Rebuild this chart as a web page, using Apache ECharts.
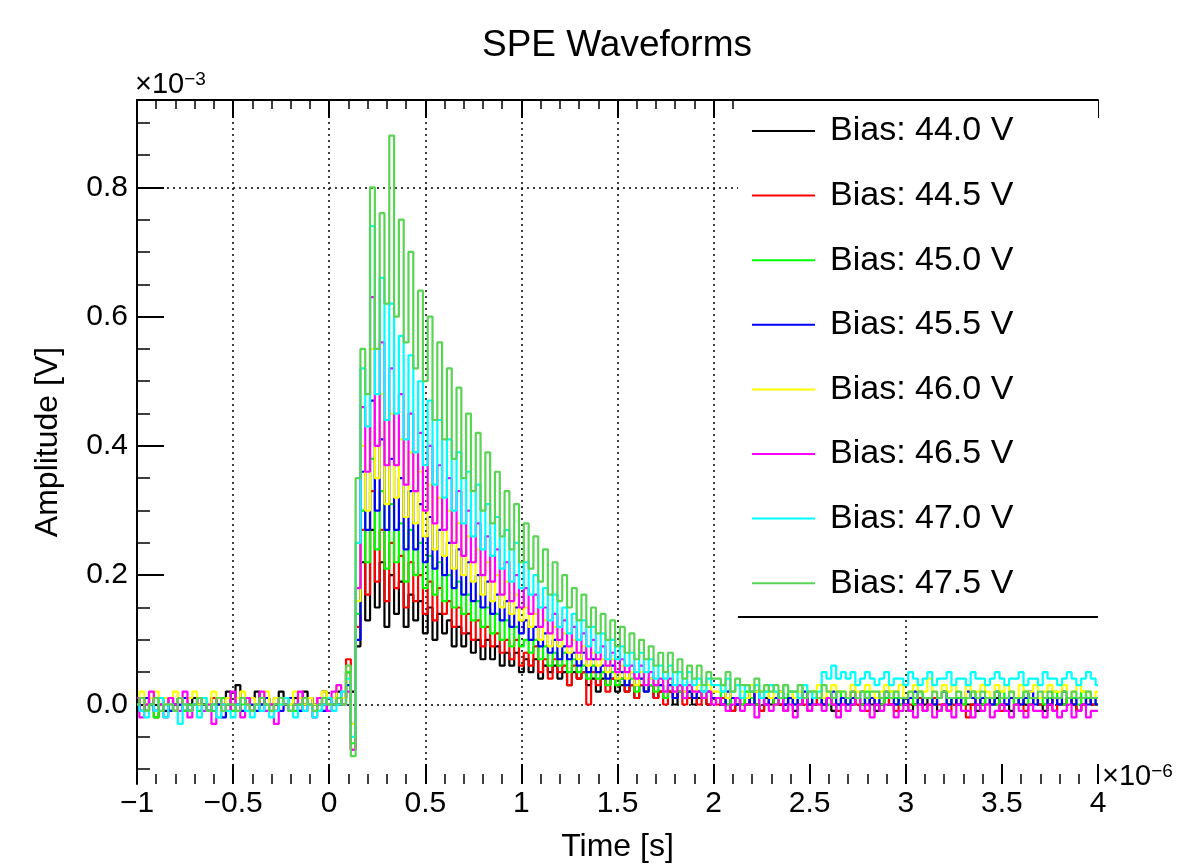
<!DOCTYPE html>
<html>
<head>
<meta charset="utf-8">
<script src="https://cdn.jsdelivr.net/npm/echarts@6/dist/echarts.min.js"></script>
<style>html,body{margin:0;padding:0;background:#fff}#chart{width:1178px;height:868px}</style>
</head>
<body>
<div id="chart"></div>
<script>
// ---- data (amplitudes in units of 1e-3 V, time in units of 1e-6 s) ----
const seriesNames = ['Bias: 44.0 V','Bias: 44.5 V','Bias: 45.0 V','Bias: 45.5 V','Bias: 46.0 V','Bias: 46.5 V','Bias: 47.0 V','Bias: 47.5 V'];
const seriesColors = ['#000000','#ff0000','#00ff00','#0000ff','#ffff00','#ff00ff','#00ffff','#59d454'];
const tStart = -1.0;   // first sample time
const tStep = 0.025;   // sample spacing
const xTickValues = [-1,-0.5,0,0.5,1,1.5,2,2.5,3,3.5,4];
const yTickValues = [0.0,0.2,0.4,0.6,0.8];
const gridTimes = [-0.5,0,0.5,1,1.5,2,3];
const gridAmps = [0.0,0.8];

const v440 = [
0.00,0.01,-0.01,0.00,0.01,0.00,-0.01,0.01,0.00,0.01,
-0.01,0.00,0.01,0.00,0.00,-0.01,0.01,0.00,0.01,0.02,
0.00,0.03,0.01,0.00,0.01,0.02,0.00,0.01,0.00,0.01,
0.02,0.00,0.01,0.01,0.00,0.02,0.01,0.00,0.01,0.02,
0.00,0.01,0.02,0.01,
0.05,0.02,0.09,
0.22,0.13,0.27,0.15,0.22,0.12,0.20,0.14,0.19,0.12,
0.17,0.13,0.16,0.11,0.15,0.10,0.14,0.11,0.13,0.09,
0.12,0.09,0.11,0.08,0.10,0.07,0.10,0.07,0.09,0.06,
0.08,0.06,0.08,0.05,
0.07,0.05,0.07,0.04,0.06,0.05,0.06,0.04,0.05,0.03,
0.05,0.04,0.05,0.03,0.04,0.02,0.04,0.03,0.04,0.02,
0.03,0.02,0.03,0.01,0.03,0.02,0.03,0.01,0.02,0.01,
0.02,0.00,0.02,0.01,0.02,0.00,0.01,0.02,0.00,0.01,
0.01,0.00,0.01,-0.01,0.00,0.01,0.00,0.01,0.00,-0.01,
0.01,0.00,0.01,0.00,0.00,0.01,-0.01,0.00,0.01,0.00,
0.00,0.01,0.00,0.01,-0.01,0.00,0.01,0.00,0.00,0.01,
0.00,0.01,0.00,-0.01,0.00,0.01,0.00,0.00,0.01,0.00,
-0.01,0.00,0.01,0.00,0.01,0.00,-0.01,0.00,0.00,0.01,
0.00,0.01,0.00,0.00,-0.01,0.00,0.01,0.00,0.01,0.00,
0.00,-0.01,0.00,0.01,0.00,0.00,0.01,0.00,-0.01,0.00,
0.01,0.00,0.00,0.01,0.00,-0.01,0.00,0.01,0.00,0.00
];
const v445 = [
0.01,-0.01,0.00,0.01,-0.02,0.00,0.01,0.00,-0.01,0.01,
0.00,-0.01,0.00,0.01,0.00,-0.01,0.01,0.00,0.00,0.01,
-0.01,0.00,0.01,0.00,-0.01,0.00,0.01,0.00,0.00,-0.01,
0.01,0.00,0.01,0.00,-0.01,0.00,0.01,0.00,0.01,0.00,
0.00,0.01,0.00,0.01,
0.07,-0.07,0.12,
0.27,0.17,0.33,0.19,0.27,0.16,0.25,0.18,0.23,0.15,
0.22,0.16,0.20,0.14,0.19,0.13,0.18,0.14,0.16,0.12,
0.15,0.11,0.14,0.10,0.13,0.09,0.12,0.09,0.11,0.08,
0.10,0.07,0.10,0.06,
0.08,0.06,0.09,0.05,0.07,0.04,0.07,0.05,0.06,0.03,
0.06,0.04,0.05,0.00,0.05,0.03,0.05,0.02,0.04,0.03,
0.04,0.02,0.03,0.01,0.03,0.02,0.03,0.01,0.02,0.00,
0.02,0.01,0.02,0.00,0.01,0.02,0.00,0.01,0.00,0.01,
0.00,0.01,0.00,-0.01,0.01,0.00,0.00,0.02,0.00,-0.01,
0.00,0.01,0.00,0.00,-0.01,0.01,0.00,0.01,0.00,-0.01,
0.01,0.00,0.00,0.01,0.00,-0.01,0.00,0.01,0.02,0.00,
0.00,-0.01,0.01,0.00,0.00,0.01,0.00,-0.01,0.00,0.01,
0.00,0.00,0.01,-0.01,0.00,0.01,0.00,0.00,-0.01,0.00,
0.01,0.00,-0.02,0.00,0.01,0.00,0.00,0.01,0.00,-0.01,
0.00,0.01,0.00,0.00,-0.01,0.00,0.01,0.00,0.00,0.01,
-0.01,0.00,0.00,0.01,0.00,-0.01,0.00,0.01,0.00,0.00
];
const v450 = [
0.00,0.01,-0.01,0.00,-0.02,0.01,0.00,-0.01,0.00,0.01,
-0.01,0.00,0.00,-0.01,0.01,0.00,-0.01,0.00,0.01,0.00,
-0.01,0.00,0.00,0.01,-0.01,0.00,0.01,0.00,-0.01,0.00,
0.00,0.01,0.00,-0.01,0.00,0.01,0.00,0.00,-0.01,0.01,
0.00,0.00,0.01,0.00,
0.05,-0.06,0.14,
0.30,0.22,0.38,0.24,0.33,0.21,0.31,0.22,0.28,0.19,
0.27,0.20,0.25,0.18,0.23,0.17,0.22,0.16,0.20,0.15,
0.19,0.14,0.17,0.13,0.16,0.12,0.15,0.11,0.14,0.10,
0.13,0.09,0.12,0.09,
0.10,0.08,0.10,0.07,0.09,0.06,0.08,0.06,0.08,0.05,
0.07,0.05,0.06,0.04,0.06,0.04,0.05,0.03,0.05,0.03,
0.04,0.03,0.04,0.02,0.04,0.02,0.03,0.02,0.03,0.01,
0.03,0.02,0.02,0.01,0.02,0.01,0.02,0.01,0.02,0.01,
0.01,0.02,0.00,0.01,0.01,0.00,0.02,0.01,0.00,0.01,
0.02,0.01,0.00,0.01,0.01,0.02,0.00,0.01,0.01,0.00,
0.02,0.01,0.01,0.00,0.01,0.02,0.01,0.00,0.01,0.01,
0.00,0.02,0.01,0.01,0.00,0.01,0.02,0.01,0.00,0.01,
0.01,0.00,0.02,0.01,0.01,0.00,0.01,0.02,0.00,0.01,
0.01,0.00,0.01,0.02,0.01,0.00,0.01,0.01,0.00,0.02,
0.01,0.01,0.00,0.01,0.02,0.00,0.01,0.01,0.00,0.01,
0.02,0.01,0.00,0.01,0.01,0.00,0.02,0.01,0.01,0.00
];
const v455 = [
0.00,-0.01,0.01,0.00,-0.01,0.00,0.01,-0.01,0.00,0.00,
0.01,-0.01,0.00,0.01,0.00,-0.01,0.00,0.00,-0.02,0.01,
0.00,0.00,-0.01,0.01,0.00,-0.01,0.00,0.01,0.00,0.00,
-0.01,0.00,0.01,0.00,-0.01,0.00,0.01,0.00,0.00,-0.01,
0.01,0.00,0.00,0.01,
0.03,-0.03,0.10,
0.36,0.27,0.47,0.30,0.41,0.27,0.38,0.27,0.35,0.24,
0.33,0.24,0.31,0.22,0.29,0.21,0.27,0.20,0.25,0.18,
0.24,0.17,0.22,0.16,0.20,0.15,0.19,0.14,0.17,0.13,
0.16,0.12,0.15,0.11,
0.13,0.10,0.12,0.09,0.11,0.08,0.10,0.07,0.09,0.07,
0.08,0.06,0.08,0.05,0.07,0.05,0.06,0.04,0.06,0.04,
0.05,0.03,0.05,0.03,0.04,0.02,0.04,0.03,0.03,0.02,
0.03,0.01,0.03,0.02,0.02,0.01,0.02,0.01,0.02,0.01,
0.01,0.00,0.02,0.01,0.00,0.01,0.01,0.00,0.02,0.01,
0.00,0.01,0.01,0.02,0.00,0.01,0.00,0.01,0.02,0.00,
0.01,0.01,0.00,0.01,0.02,0.00,0.01,0.00,0.01,0.01,
0.02,0.00,0.01,0.00,0.01,0.02,0.01,0.00,0.01,0.00,
0.01,0.02,0.00,0.01,0.01,0.00,0.01,0.02,0.00,0.01,
0.00,0.01,0.02,0.01,0.00,0.01,0.01,0.00,0.02,0.01,
0.00,0.01,0.01,0.00,0.01,0.02,0.00,0.01,0.01,0.00,
0.01,0.00,0.02,0.01,0.00,0.01,0.01,0.00,0.01,0.00
];
const v460 = [
0.01,0.02,0.00,0.01,0.02,0.00,0.01,0.00,0.02,0.01,
0.00,0.01,0.02,0.00,0.01,0.00,0.02,0.01,0.00,0.01,
0.00,0.01,0.02,0.00,0.01,0.00,0.01,0.02,0.00,0.01,
0.00,0.01,0.00,0.02,0.01,0.00,0.01,0.00,0.01,0.02,
0.00,0.01,0.03,0.01,
0.04,-0.03,0.16,
0.40,0.30,0.55,0.35,0.48,0.31,0.45,0.32,0.41,0.29,
0.39,0.28,0.36,0.26,0.34,0.24,0.32,0.23,0.30,0.21,
0.28,0.20,0.26,0.19,0.24,0.17,0.22,0.16,0.20,0.15,
0.19,0.14,0.17,0.13,
0.15,0.12,0.14,0.10,0.13,0.09,0.12,0.09,0.11,0.08,
0.10,0.07,0.09,0.06,0.08,0.06,0.07,0.05,0.07,0.04,
0.06,0.04,0.05,0.03,0.05,0.03,0.04,0.03,0.04,0.02,
0.04,0.02,0.03,0.02,0.03,0.02,0.03,0.01,0.03,0.02,
0.02,0.03,0.01,0.02,0.03,0.02,0.01,0.03,0.02,0.02,
0.03,0.01,0.02,0.02,0.03,0.02,0.01,0.02,0.03,0.02,
0.02,0.03,0.01,0.02,0.03,0.02,0.02,0.01,0.03,0.02,
0.02,0.03,0.02,0.01,0.02,0.03,0.02,0.02,0.03,0.01,
0.02,0.03,0.02,0.02,0.04,0.02,0.01,0.03,0.02,0.03,
0.02,0.01,0.03,0.02,0.02,0.03,0.02,0.01,0.03,0.02,
0.03,0.02,0.01,0.03,0.02,0.02,0.03,0.01,0.02,0.03,
0.02,0.02,0.03,0.01,0.02,0.03,0.02,0.02,0.01,0.02
];
const v465 = [
0.01,-0.02,0.00,0.02,-0.01,0.00,-0.02,0.01,0.00,-0.01,
0.02,-0.02,0.00,0.01,-0.01,0.00,-0.03,0.01,0.00,-0.01,
0.02,0.00,-0.02,0.01,-0.01,0.00,0.02,-0.01,0.00,-0.03,
0.01,0.00,-0.01,0.00,0.02,-0.01,0.00,-0.02,0.01,0.00,
-0.01,0.02,0.03,0.00,
0.02,-0.07,0.18,
0.46,0.36,0.63,0.40,0.56,0.37,0.52,0.37,0.48,0.34,
0.45,0.33,0.42,0.30,0.40,0.28,0.37,0.27,0.35,0.25,
0.33,0.23,0.30,0.22,0.28,0.20,0.26,0.19,0.24,0.17,
0.22,0.16,0.20,0.15,
0.18,0.14,0.17,0.12,0.15,0.11,0.14,0.10,0.13,0.09,
0.12,0.08,0.11,0.07,0.10,0.07,0.09,0.06,0.08,0.05,
0.07,0.05,0.06,0.04,0.06,0.03,0.05,0.03,0.04,0.02,
0.04,0.02,0.03,0.01,0.03,0.02,0.02,0.01,0.02,0.00,
0.01,0.00,-0.01,0.00,0.01,-0.01,0.00,0.00,-0.02,0.01,
0.00,-0.01,0.00,0.01,-0.01,0.00,-0.02,0.00,0.01,-0.01,
0.00,0.00,-0.01,0.01,0.00,-0.02,0.00,-0.01,0.00,0.01,
-0.01,0.00,-0.02,0.00,-0.01,0.00,0.00,-0.02,-0.01,0.00,
-0.01,-0.02,0.00,-0.01,0.00,-0.02,-0.01,0.00,-0.01,-0.02,
0.00,-0.01,-0.01,-0.02,0.00,-0.01,0.00,-0.02,-0.01,0.00,
-0.01,-0.02,0.00,-0.01,-0.02,0.00,-0.01,-0.01,-0.02,0.00,
-0.01,-0.02,-0.01,0.00,-0.02,-0.01,0.00,-0.02,-0.01,-0.01
];
const v470 = [
0.00,-0.01,-0.02,0.00,-0.01,0.01,-0.02,0.00,-0.01,-0.03,
0.00,-0.01,0.00,-0.02,0.01,-0.01,0.00,-0.02,0.00,-0.01,
-0.02,0.00,0.01,-0.01,-0.02,0.00,-0.01,0.00,-0.02,-0.01,
0.00,0.01,-0.01,-0.02,0.00,-0.01,0.00,-0.02,-0.01,0.00,
0.01,-0.01,0.00,0.02,
0.04,-0.05,0.25,
0.52,0.43,0.74,0.48,0.66,0.44,0.62,0.45,0.57,0.41,
0.54,0.39,0.50,0.37,0.47,0.34,0.44,0.32,0.41,0.30,
0.39,0.28,0.36,0.26,0.34,0.24,0.31,0.23,0.29,0.21,
0.27,0.19,0.25,0.18,
0.22,0.17,0.20,0.15,0.18,0.13,0.17,0.12,0.15,0.11,
0.14,0.10,0.13,0.09,0.12,0.08,0.11,0.07,0.10,0.07,
0.09,0.06,0.08,0.05,0.08,0.05,0.07,0.04,0.06,0.04,
0.06,0.03,0.05,0.03,0.05,0.03,0.04,0.02,0.04,0.03,
0.03,0.02,0.04,0.02,0.03,0.01,0.03,0.02,0.03,0.01,
0.02,0.03,0.02,0.01,0.03,0.02,0.02,0.01,0.03,0.02,
0.01,0.02,0.05,0.04,0.06,0.04,0.05,0.04,0.05,0.03,
0.04,0.05,0.04,0.03,0.04,0.05,0.03,0.04,0.04,0.03,
0.05,0.04,0.03,0.04,0.05,0.03,0.04,0.04,0.05,0.03,
0.04,0.04,0.03,0.05,0.04,0.04,0.03,0.04,0.05,0.04,
0.03,0.04,0.04,0.05,0.03,0.04,0.04,0.03,0.05,0.04,
0.04,0.03,0.04,0.05,0.04,0.03,0.04,0.05,0.04,0.03
];
const v475 = [
0.00,0.01,-0.01,0.00,0.01,-0.01,0.00,0.00,-0.01,0.01,
0.00,-0.01,0.00,0.01,0.00,-0.01,0.00,0.01,-0.01,0.00,
0.00,-0.01,0.01,0.00,-0.01,0.00,0.01,0.00,-0.01,0.00,
0.01,0.00,-0.01,0.00,0.00,0.01,0.00,-0.01,0.00,0.01,
0.00,0.00,0.01,0.00,
0.06,-0.08,0.35,
0.55,0.48,0.80,0.55,0.76,0.62,0.88,0.60,0.75,0.56,
0.70,0.52,0.64,0.50,0.60,0.44,0.56,0.41,0.52,0.38,
0.49,0.35,0.45,0.33,0.42,0.30,0.39,0.28,0.36,0.26,
0.33,0.24,0.31,0.22,
0.28,0.21,0.26,0.19,0.24,0.17,0.22,0.16,0.20,0.15,
0.18,0.13,0.17,0.12,0.15,0.11,0.14,0.10,0.13,0.09,
0.12,0.08,0.11,0.07,0.10,0.07,0.09,0.06,0.08,0.05,
0.08,0.05,0.07,0.04,0.06,0.04,0.06,0.03,0.05,0.04,
0.04,0.03,0.05,0.02,0.04,0.03,0.03,0.02,0.04,0.02,
0.03,0.02,0.03,0.01,0.03,0.02,0.02,0.03,0.01,0.02,
0.02,0.01,0.03,0.02,0.01,0.02,0.02,0.01,0.02,0.01,
0.02,0.01,0.02,0.02,0.01,0.02,0.01,0.02,0.01,0.01,
0.02,0.01,0.02,0.01,0.01,0.02,0.01,0.02,0.01,0.01,
0.02,0.01,0.01,0.02,0.01,0.02,0.01,0.01,0.02,0.01,
0.01,0.02,0.01,0.01,0.02,0.01,0.01,0.02,0.01,0.02,
0.01,0.01,0.02,0.01,0.02,0.01,0.01,0.02,0.01,0.01
];

const allValues = [v440, v445, v450, v455, v460, v465, v470, v475];
const times = v440.map((_, i) => +(tStart + i * tStep).toFixed(3));

const FONT = '"Liberation Sans", Arial, Helvetica, sans-serif';
const fmtX = v => {
  const r = Math.round(v * 10) / 10;
  return r < 0 ? '\u2212' + String(Math.abs(r)) : String(r);
};

const chart = echarts.init(document.getElementById('chart'), null, { renderer: 'canvas' });

const series = allValues.map((vals, k) => {
  const s = {
    name: seriesNames[k],
    type: 'line',
    data: times.map((t, i) => [t, vals[i]]),
    symbol: 'none',
    showSymbol: false,
    step: 'middle',
    clip: true,
    z: 2,
    lineStyle: { color: seriesColors[k], width: 2.2 },
    itemStyle: { color: seriesColors[k] },
    emphasis: { disabled: true },
    animation: false
  };
  if (k === 0) {
    s.markLine = {
      silent: true,
      z: 1,
      symbol: ['none', 'none'],
      label: { show: false },
      lineStyle: { color: '#000', type: [2, 4], width: 1.5 },
      emphasis: { disabled: true },
      animation: false,
      data: gridTimes.map(t => ({ xAxis: t })).concat(gridAmps.map(a => ({ yAxis: a })))
    };
  }
  return s;
});

const option = {
  animation: false,
  backgroundColor: '#ffffff',
  title: {
    text: 'SPE Waveforms',
    left: 617,
    top: 27,
    padding: 0,
    textAlign: 'center',
    textStyle: { fontFamily: FONT, fontSize: 37, fontWeight: 'normal', color: '#000' }
  },
  grid: { left: 137, right: 80, top: 100, bottom: 80 },
  legend: {
    orient: 'vertical',
    left: 752,
    top: 111,
    padding: 0,
    z: 11,
    itemWidth: 63,
    itemHeight: 2,
    itemGap: 24.6,
    icon: 'rect',
    selectedMode: false,
    data: seriesNames,
    textStyle: { fontFamily: FONT, fontSize: 34, color: '#000', lineHeight: 40, padding: [0, 0, 0, 10] }
  },
  xAxis: [
    {
      type: 'value', min: -1, max: 4, interval: 0.5, position: 'bottom',
      axisLine: { show: false, onZero: false },
      axisTick: { show: true, inside: true, length: 20, lineStyle: { color: '#000', width: 2 } },
      minorTick: { show: true, splitNumber: 5, length: 10, lineStyle: { color: '#000', width: 1.5 } },
      splitLine: { show: false },
      axisLabel: {
        formatter: fmtX, fontFamily: FONT, fontSize: 30, color: '#000', margin: 5,
        showMinLabel: true, showMaxLabel: true, customValues: xTickValues
      },
      name: 'Time [s]', nameLocation: 'middle', nameGap: 47,
      nameTextStyle: { fontFamily: FONT, fontSize: 32, color: '#000' }
    },
    {
      type: 'value', min: -1, max: 4, interval: 0.5, position: 'top',
      axisLine: { show: true, onZero: false, lineStyle: { color: '#000', width: 2 } },
      axisTick: { show: true, inside: true, length: 18, lineStyle: { color: '#000', width: 2 } },
      minorTick: { show: true, splitNumber: 5, length: 9, lineStyle: { color: '#000', width: 1.5 } },
      splitLine: { show: false },
      axisLabel: { show: false }
    }
  ],
  yAxis: [
    {
      type: 'value', min: -0.123, max: 0.935, minInterval: 0.2, maxInterval: 0.2, position: 'left',
      axisLine: { show: true, onZero: false, lineStyle: { color: '#000', width: 2 } },
      axisTick: { show: true, inside: true, length: 27, lineStyle: { color: '#000', width: 2 }, customValues: yTickValues },
      minorTick: { show: true, splitNumber: 4, length: 13, lineStyle: { color: '#000', width: 1.5 } },
      splitLine: { show: false },
      axisLabel: {
        formatter: v => v.toFixed(1), fontFamily: FONT, fontSize: 30, color: '#000', margin: 9,
        customValues: yTickValues
      },
      name: 'Amplitude [V]', nameLocation: 'middle', nameRotate: 90, nameGap: 73,
      nameTextStyle: { fontFamily: FONT, fontSize: 32, color: '#000' }
    }
  ],
  graphic: [
    { type: 'rect', z: 10, silent: true, shape: { x: 738, y: 101, width: 360, height: 516 }, style: { fill: '#ffffff' } },
    { type: 'line', z: 12, silent: true, shape: { x1: 738, y1: 617, x2: 1098, y2: 617 }, style: { stroke: '#000', lineWidth: 2 } },
    { type: 'text', z: 12, silent: true, left: 135, top: 70,
      style: { text: '\u00d710{s|\u22123}', font: '29px "Liberation Sans", Arial, sans-serif', fill: '#000',
        rich: { s: { fontSize: 19, verticalAlign: 'top', fontFamily: FONT } } } },
    { type: 'text', z: 12, silent: true, left: 1102, top: 762,
      style: { text: '\u00d710{s|\u22126}', font: '29px "Liberation Sans", Arial, sans-serif', fill: '#000',
        rich: { s: { fontSize: 19, verticalAlign: 'top', fontFamily: FONT } } } }
  ],
  series: series
};

chart.setOption(option);
</script>
</body>
</html>
